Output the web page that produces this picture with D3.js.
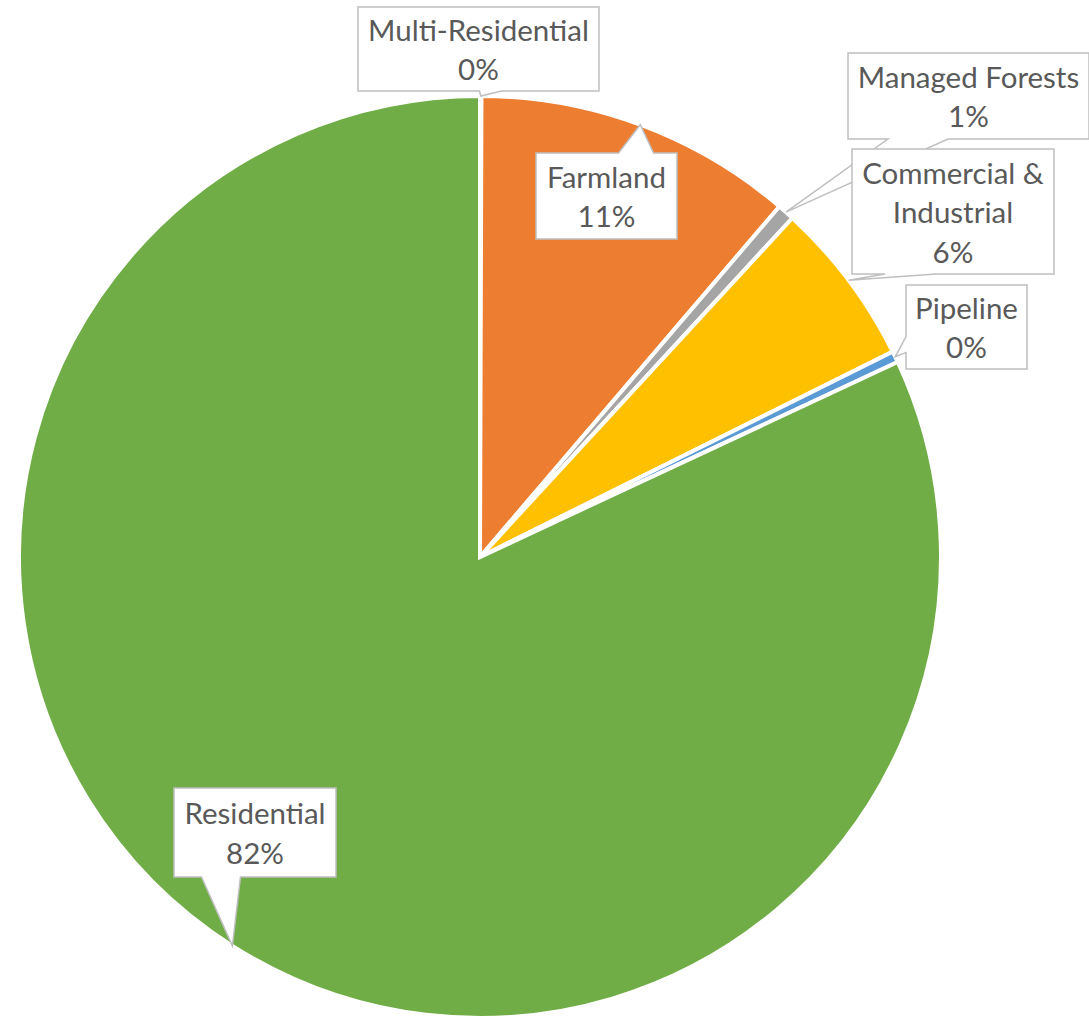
<!DOCTYPE html>
<html>
<head>
<meta charset="utf-8">
<script src="https://cdn.jsdelivr.net/npm/d3@7.9.0/dist/d3.min.js"></script>
<style>
  body { margin: 0; background: #fff; }
  svg { display: block; }
</style>
</head>
<body>
<div id="chart"></div>
<script>
// Data
const categories = ["Multi-Residential", "Farmland", "Managed Forests", "Commercial & Industrial", "Pipeline", "Residential"];
const values = [0.05, 11.2, 0.6, 5.8, 0.4, 81.95];
const labelLines = [["Multi-Residential"], ["Farmland"], ["Managed Forests"], ["Commercial &", "Industrial"], ["Pipeline"], ["Residential"]];
const colors = ["#4472C4", "#ED7D31", "#A5A5A5", "#FFC000", "#5B9BD5", "#70AD47"];

// Callout boxes (layout only)
const callouts = [
    {x: 358, y: 7,   w: 241, h: 84,  side: "bottom", at: 0.55, base: 22},
    {x: 536, y: 153, w: 141, h: 86,  side: "top",    at: 0.71, base: 35},
    {x: 848, y: 53,  w: 241, h: 86,  side: "bottom", at: 0.29, base: 60},
    {x: 852, y: 149, w: 202, h: 125, side: "bottom", at: 0.29, base: 51},
    {x: 906, y: 285, w: 121, h: 84,  side: "left",   at: 0.71, base: 16},
    {x: 174, y: 788, w: 162, h: 89,  side: "bottom", at: 0.29, base: 39}
];

const width = 1089, height = 1017;
const cx = 480, cy = 557, radius = 461;
const lineHeight = 39.5;

const data = categories.map((c, i) => ({name: c, value: values[i], lines: labelLines[i], color: colors[i], box: callouts[i]}));
const total = d3.sum(values);

const svg = d3.select("#chart")
    .append("svg")
    .attr("width", width)
    .attr("height", height);

const pie = d3.pie()
    .sort(null)
    .value(d => d.value);

const arc = d3.arc()
    .innerRadius(0)
    .outerRadius(radius);

const arcs = pie(data);

// Slices
svg.append("g")
    .attr("transform", `translate(${cx},${cy})`)
    .selectAll("path")
    .data(arcs)
    .enter().append("path")
    .attr("d", arc)
    .attr("fill", d => d.data.color)
    .attr("stroke", "#fff")
    .attr("stroke-width", 4);

// Callout outline: box with wedge pointing to the slice
function calloutPath(b, tip) {
    const x0 = b.x, y0 = b.y, x1 = b.x + b.w, y1 = b.y + b.h;
    let pts;
    if (b.side === "top") {
        const m = x0 + b.w * b.at;
        pts = [[x0, y0], [m - b.base / 2, y0], tip, [m + b.base / 2, y0], [x1, y0], [x1, y1], [x0, y1]];
    } else if (b.side === "bottom") {
        const m = x0 + b.w * b.at;
        pts = [[x0, y0], [x1, y0], [x1, y1], [m + b.base / 2, y1], tip, [m - b.base / 2, y1], [x0, y1]];
    } else {
        const m = y0 + b.h * b.at;
        pts = [[x0, y0], [x1, y0], [x1, y1], [x0, y1], [x0, m + b.base / 2], tip, [x0, m - b.base / 2]];
    }
    return "M" + pts.map(p => p.join(",")).join("L") + "Z";
}

const labels = svg.append("g")
    .selectAll("g")
    .data(arcs)
    .enter().append("g");

labels.append("path")
    .attr("d", d => {
        const a = (d.startAngle + d.endAngle) / 2;
        const tip = [cx + Math.sin(a) * radius, cy - Math.cos(a) * radius];
        return calloutPath(d.data.box, tip);
    })
    .attr("fill", "#fff")
    .attr("stroke", "#BFBFBF")
    .attr("stroke-width", 1.5);

labels.each(function(d) {
    const b = d.data.box;
    const lines = d.data.lines.concat([Math.round(d.data.value / total * 100) + "%"]);
    const midY = b.y + b.h / 2;
    const first = midY - (lines.length - 1) * lineHeight / 2 + 11.5;
    d3.select(this).selectAll("text")
        .data(lines)
        .enter().append("text")
        .attr("x", b.x + b.w / 2)
        .attr("y", (t, i) => first + i * lineHeight)
        .attr("text-anchor", "middle")
        .attr("font-family", "Lato, 'Open Sans', sans-serif")
        .attr("font-size", "29.5px")
        .attr("fill", "#595959")
        .text(t => t);
});
</script>
</body>
</html>
